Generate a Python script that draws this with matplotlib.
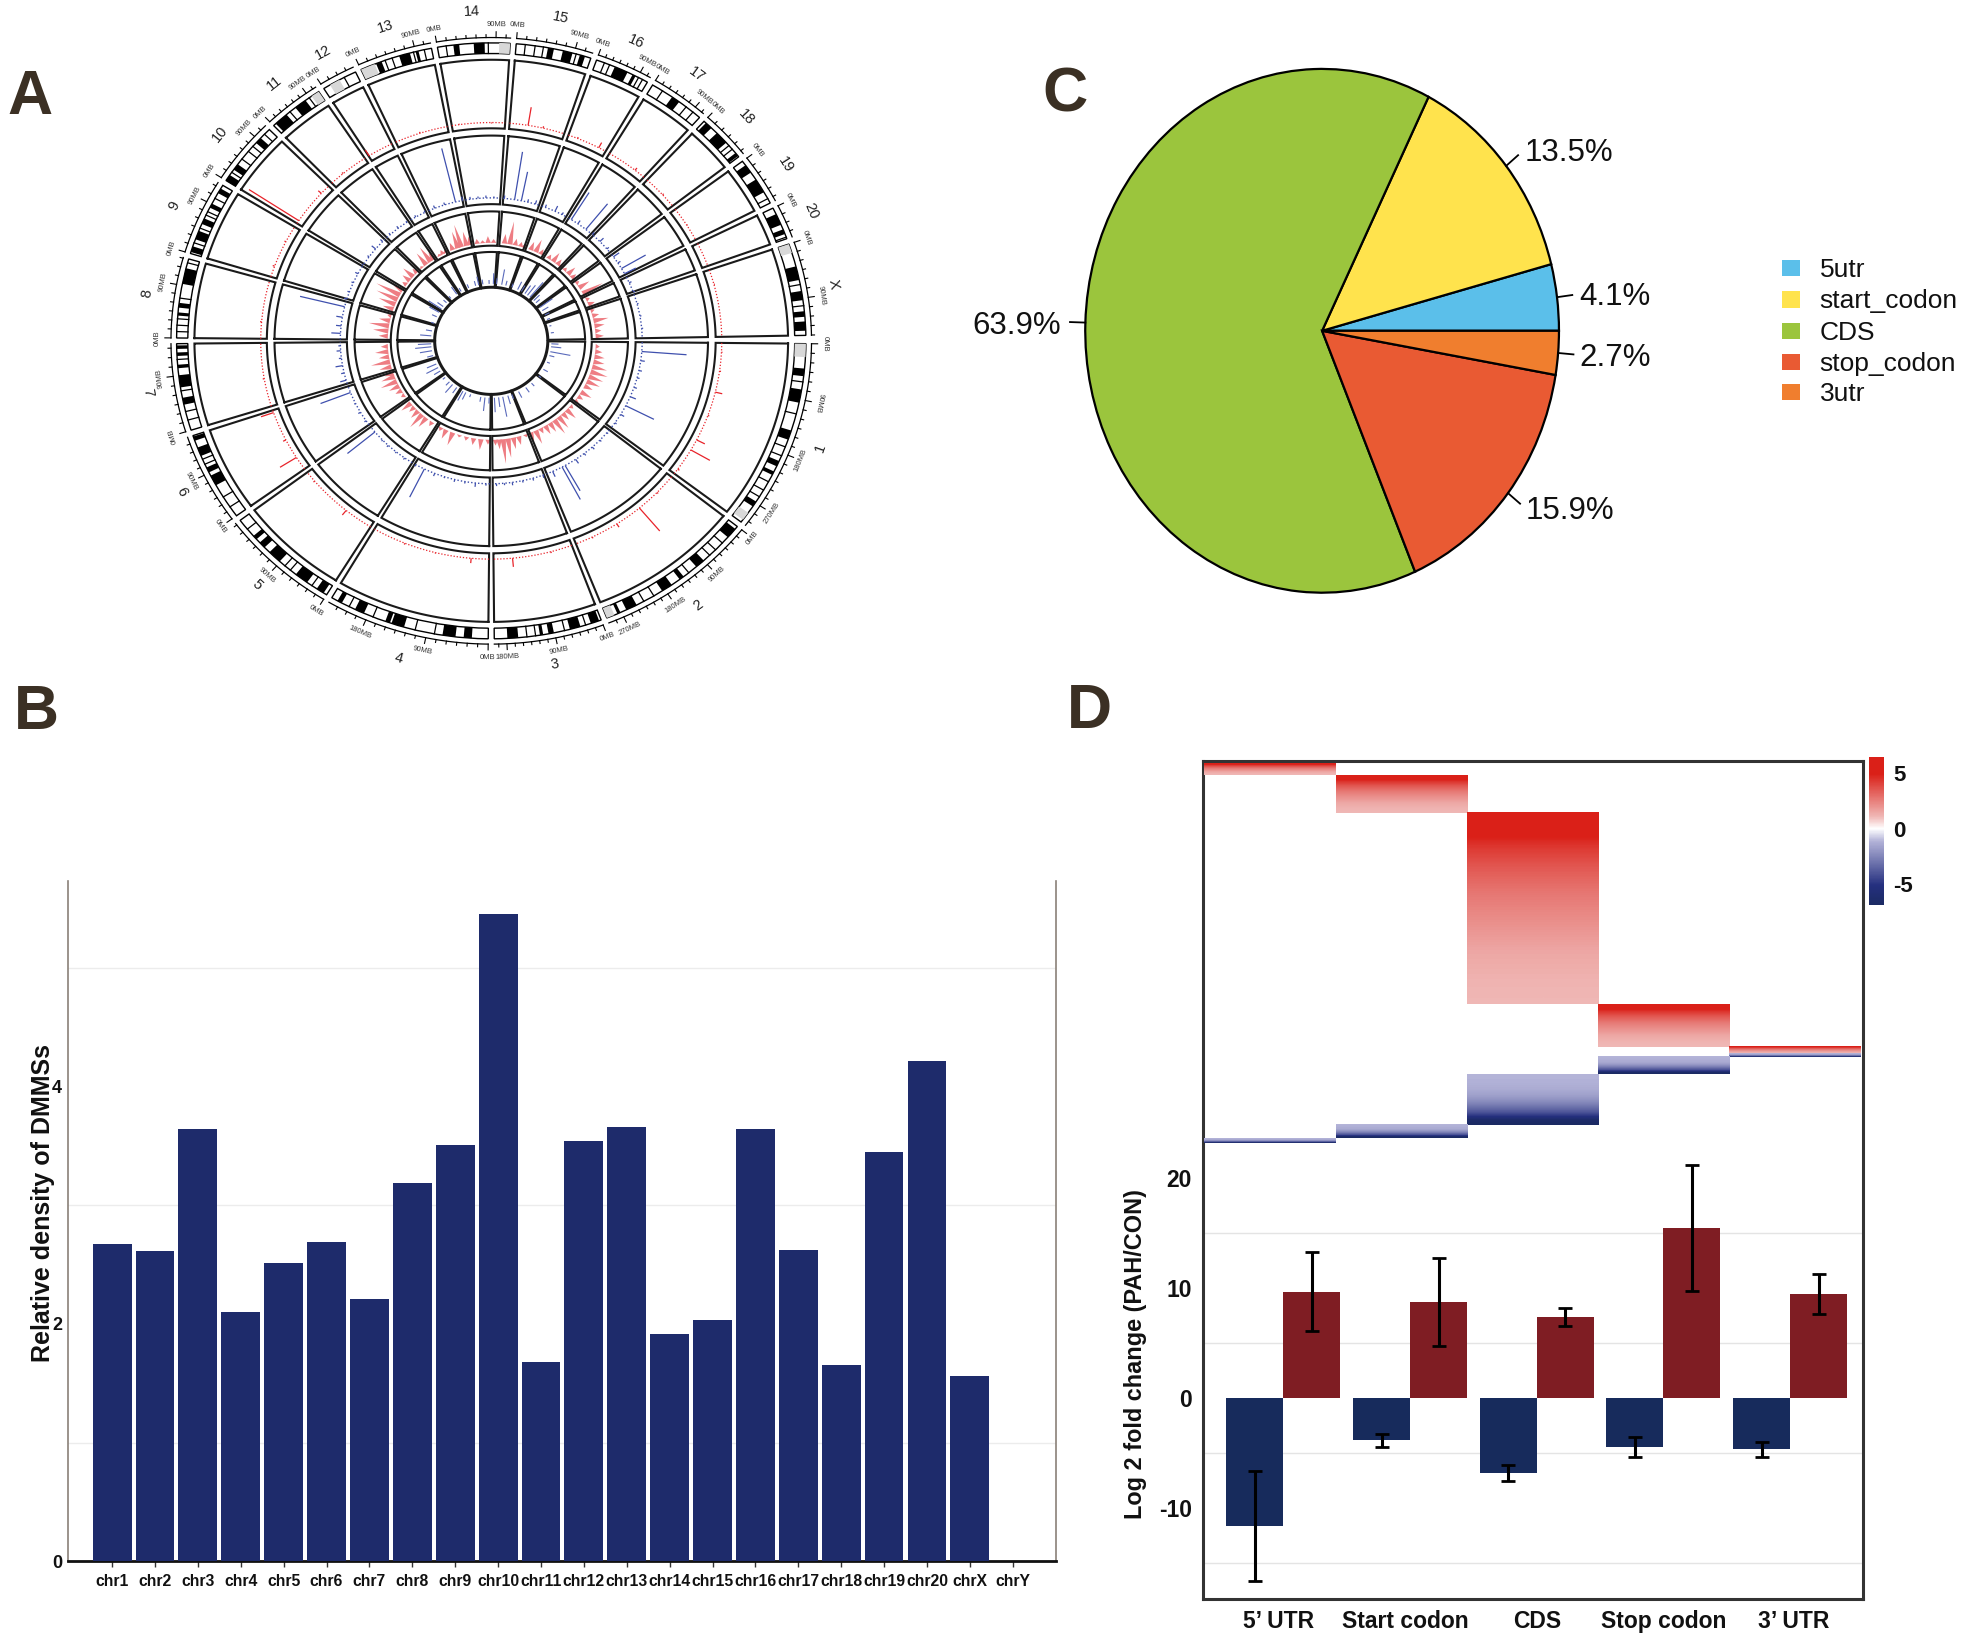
import numpy as np
import matplotlib
matplotlib.use("Agg")
import matplotlib.pyplot as plt
from matplotlib.colors import LinearSegmentedColormap, Normalize
from matplotlib.cm import ScalarMappable

W, H = 1568.0, 1312.0   # layout units
plt.rcParams['font.family'] = ['Liberation Sans', 'DejaVu Sans']
fig = plt.figure(figsize=(19.65, 16.44), dpi=100, facecolor='white')

def box(l, t, r, b, **kw):
    return fig.add_axes([l / W, 1 - b / H, (r - l) / W, (b - t) / H], **kw)

def ftext(x, y, s, **kw):
    kw.setdefault('ha', 'center'); kw.setdefault('va', 'center')
    return fig.text(x / W, 1 - y / H, s, **kw)

# ---------------- Panel A data ----------------
chr_names = ['1','2','3','4','5','6','7','8','9','10','11','12','13','14','15','16','17','18','19','20','X']
chr_edges = [0,38,69,90,121,143.5,162,180,196.5,212,225.7,237.3,245,259.6,274,289,300.3,312,322.4,333,340.5,359.5]
chr_deg_per_mb = [.12,.1,.098,.125,.117,.107,.119,.113,.114,.109,.094,.115,.117,.119,.119,.091,.097,.115,.115,.115,.119]
chr_labels_mb = [[0,90,180,270],[0,90,180,270],[0,90,180],[0,90,180],[0,90],[0,90],[0,90],[0,90],[0,90],[0,90],[0,90],
                 [0],[0,90],[0,90],[0,90],[0,90],[0,90],[0],[0],[0],[0,90]]
ideo_black = [
 [(.13,.17),(.24,.31),(.46,.51),(.63,.66),(.69,.71),(.87,.90)],
 [(.02,.09),(.30,.36),(.46,.49),(.55,.62),(.80,.87),(.91,.93)],
 [(.02,.10),(.20,.30),(.45,.50),(.55,.58),(.78,.88)],
 [(.10,.15),(.20,.28),(.52,.60),(.61,.64),(.78,.84),(.93,.96)],
 [(.03,.10),(.20,.32),(.50,.62),(.68,.74),(.78,.82)],
 [(.40,.52),(.56,.62),(.76,.86),(.94,.99)],
 [(.30,.38),(.50,.64),(.72,.76),(.86,.90),(.94,.98)],
 [(.28,.32),(.38,.44),(.68,.88)],
 [(.02,.10),(.20,.32),(.42,.50),(.66,.72),(.88,.95)],
 [(0,.10),(.20,.30),(.72,.82)],
 [(.05,.30),(.50,.72)],
 [],
 [(.22,.30),(.55,.70),(.78,.82)],
 [(.22,.30),(.50,.65)],
 [(.42,.50),(.62,.75),(.85,.92)],
 [(.35,.60),(.70,.76)],
 [(.40,.55)],
 [(.05,.20),(.35,.62),(.90,.98)],
 [(.10,.28),(.45,.75)],
 [(.20,.55),(.70,.85)],
 [(.25,.40),(.52,.62),(.74,.80),(.85,.95)],
]
ideo_grey = [[(0,.07),(.94,.985)],[(.95,1)],[],[],[],[],[],[],[],[],[(.85,1)],[(.2,.5)],[(0,.2)],[(.85,1)],[],[],[],[],[],[],[(0,.1)]]
ideo_sep = [[.20,.37,.55,.60,.75,.80,.84],[.14,.20,.25,.42,.68,.75],[.15,.35,.62,.70],[.33,.45,.72,.88],[.15,.38,.44,.9],
            [.12,.25,.66,.72],[.12,.22,.46,.82],[.08,.16,.24,.5,.95],[.15,.36,.55,.6,.8],[.15,.4,.55,.65,.9],[.38,.8],
            [.65],[.35,.45,.75,.9],[.12,.7],[.12,.25,.36,.8],[.15,.25,.82,.9],[.2,.7,.85],[.7,.8],[.9],[.95],[.45,.68]]

red_spike_ang = [3,8,13.6,20,27,30,36,44,50,57,64,75,84.7,95,104,112,129,140,147.7,153,160.8,170,185,200,207,213.4,222.5,230,238,252,262,270,279.2,283,292,297.8,308.6,318,328,345]
red_spike_h   = [2,3,14,3,18,43,4,3,62,8,3,3,18,10,2,3,12,3,38,6,26,3,3,4,3,117,8,3,14,3,2,2,38,4,3,12,6,3,2,2]

blue_spike_ang = [4.3,8,12,15,19,23,27,31,35,40,44,48,52,56,60.7,62,66,70,74,78,82,85,88,92,96,100,104,108,112,116.3,120,125,129,133,136,140.4,146,150,154,158.8,164,167,170,173,176,178,
                  183,186,189.5,193.8,197,200,204,208,212,216,220,224,228,232,236,240,244,248,252,256.3,259,262,265,268,271,275,278.9,281.5,284,287,291,295,298,302,305,308.8,312,316,320,324,327,329.6,332,336,340,345,350,355]
blue_spike_h   = [88,8,6,5,6,12,62,8,4,3,4,6,5,10,60,76,12,6,5,4,6,4,5,4,8,4,5,3,6,65,4,4,3,4,3,70,4,5,3,63,12,6,14,5,8,4,
                  18,10,12,90,6,4,4,6,3,4,10,6,4,5,3,4,4,6,5,114,8,5,4,5,3,6,100,61,6,8,6,12,5,66,8,68,6,10,5,14,6,55,25,5,4,3,3,3]

pink_ang = [3,6,9,12,15,18,21,24,27,31,34,37,41,44,47,50,53,56,59,62,65,68,71,75,78,81,83.7,86,88,92,96,100,104,108,112,116,119,125,129,132,135,138,141,
            147,150,153,156,159,161,165,168,171,174,177,183,186,189,192,195,199,202,205,208,211,215,218,221,224,228,231,234,236,240,242,244,
            248,251,253,256,258,262,265,268,271,277,280,283,286,288,292,295,298,303,306,309,311,314,317,320,324,327,331,335,338,342,345,348,351,354,357]
pink_h   = [8,14,20,22,30,35,30,28,18,24,12,10,8,25,18,30,35,22,20,12,30,18,6,18,24,40,51,20,12,10,22,14,8,5,28,20,8,10,24,35,20,14,24,
            8,14,22,34,28,18,24,38,20,26,14,18,30,40,22,8,22,35,45,52,20,10,18,26,12,5,30,36,18,5,10,8,
            16,36,48,30,18,10,6,14,8,20,48,14,10,8,18,28,12,10,22,14,8,8,20,12,8,24,45,8,14,8,14,30,20,12,16]

inner_ang = [3,6,11,15,22,30,38,48,55,63,70,74,79,83,87,92,96,100,110,115,118,125,130,134,140,148,152,156,165,170,174,177,185,190,198,205,210,214,217,222,228,235,240,248,255,258,262,268,272,275,280,284,290,296,300,304,307,310,315,318,324,328,333,338,345,352]
inner_h   = [14,20,40,10,6,10,6,8,12,14,10,18,42,20,30,12,28,10,6,16,22,14,22,10,6,14,26,20,12,24,32,26,22,12,6,10,22,30,14,8,6,18,8,8,10,18,10,8,22,12,32,10,8,18,14,20,26,40,16,10,30,14,10,6,4,6]

# ---------------- Panel B data ----------------
chr_b = ['chr1','chr2','chr3','chr4','chr5','chr6','chr7','chr8','chr9','chr10','chr11','chr12','chr13','chr14','chr15','chr16','chr17','chr18','chr19','chr20','chrX','chrY']
dens  = [2.67,2.61,3.64,2.10,2.51,2.69,2.21,3.19,3.51,5.45,1.68,3.54,3.66,1.91,2.03,3.64,2.62,1.65,3.45,4.21,1.56,0]

# ---------------- Panel C data ----------------
pie_names = ['5utr','start_codon','CDS','stop_codon','3utr']
pie_vals  = [4.1,13.5,63.9,15.9,2.7]
pie_cols  = ['#5BBFEA','#FFE34D','#9BC53D','#E95A33','#F07E2E']

# ---------------- Panel D data ----------------
regions = ["5’ UTR","Start codon","CDS","Stop codon","3’ UTR"]
red_rows  = [9.3,29.8,153,34,5.6]
blue_rows = [3.7,11,40,14,2.4]
red_levels  = [6.5,5.6,5,4.4,4,3.6,3.3,3,2.7,2.5,2.3,2.1,1.9,1.7,1.5,1.4,1.3,1.2,1.15,1.1]
blue_levels = [-1.1,-1.15,-1.2,-1.3,-1.4,-1.6,-1.9,-2.3,-2.8,-3.4,-4,-5,-6.4,-6.8]
down_fc  = [-11.6,-3.8,-6.8,-4.45,-4.65]
up_fc    = [9.7,8.8,7.4,15.5,9.5]
down_err = [5,.6,.75,.9,.65]
up_err   = [3.6,4,.8,5.7,1.8]

# ================ Panel A ================
CX, CY, SX, SY = 392, 272, 0.51/1.2532, 0.483/1.2532
RM = 720
axa = box(CX-RM*SX, CY-RM*SY, CX+RM*SX, CY+RM*SY, projection='polar')
axa.set_aspect('auto')
axa.set_theta_zero_location('E'); axa.set_theta_direction(-1)
axa.set_rlim(0, RM); axa.axis('off')
track_r = [(110,184),(197,268),(283,425),(440,582)]
GAP = 0.55
rad = np.deg2rad

def rot(ang):
    return 90-ang if ang < 180 else -90-ang

for i in range(21):
    a0, a1 = chr_edges[i]+GAP, chr_edges[i+1]-GAP
    th = rad(np.linspace(a0, a1, 60))
    for r0, r1 in track_r:
        tt = np.r_[th, th[::-1], th[0]]
        rr = np.r_[np.full(60, r1), np.full(60, r0), r1]
        axa.plot(tt, rr, color='#1a1a1a', lw=1.5, clip_on=False, solid_joinstyle='miter')
    # baselines
    axa.plot(th, np.full(60, 452), color='#E8232A', lw=0.9, ls=(0,(1,1.5)), clip_on=False)
    axa.plot(th, np.full(60, 296), color='#3A4CA8', lw=1.0, ls=(0,(1,1.5)), clip_on=False)
    # ideogram
    axa.bar(rad((a0+a1)/2), 22, width=rad(a1-a0), bottom=595, color='white', edgecolor='black', lw=1.0, clip_on=False)
    span = a1-a0
    for s, e in ideo_black[i]:
        axa.bar(rad(a0+span*(s+e)/2), 22, width=rad(span*(e-s)), bottom=595, color='black', lw=0, clip_on=False)
    for s, e in ideo_grey[i]:
        axa.bar(rad(a0+span*(s+e)/2), 22, width=rad(span*(e-s)), bottom=595, color='#D8D8D8', lw=0, clip_on=False)
    for s in ideo_sep[i]:
        axa.plot([rad(a0+span*s)]*2, [595,617], color='black', lw=0.9, clip_on=False)
    axa.plot(th, np.full(60, 628), color='black', lw=0.9, clip_on=False)
    # ticks
    dpm = chr_deg_per_mb[i]
    for mb in np.arange(0, span/dpm, 15):
        a = a0 + mb*dpm
        major = mb in chr_labels_mb[i]
        axa.plot([rad(a)]*2, [628, 640 if major else 634], color='black', lw=0.8, clip_on=False)
    for mb in chr_labels_mb[i]:
        a = a0 + mb*dpm
        r = rot(a) if 22 < a < 158 else (-a-90 if a < 22 else 90-a+180)
        axa.text(rad(a), 655, f'{mb}MB', fontsize=5.5, color='#333333', rotation=r, rotation_mode='anchor',
                 ha='center', va='center', clip_on=False)
    mid = (a0+a1)/2
    axa.text(rad(mid), 682, chr_names[i], fontsize=10.5, color='#222222', rotation=rot(mid), rotation_mode='anchor',
             ha='center', va='center', clip_on=False)

axa.vlines(rad(np.array(red_spike_ang)), 452, 452+np.array(red_spike_h), color='#E8232A', lw=0.9, clip_on=False)
axa.vlines(rad(np.array(blue_spike_ang)), 296, 296+np.array(blue_spike_h), color='#3F50AE', lw=0.9, clip_on=False)
for ang, h in zip(pink_ang, pink_h):
    t = rad(np.array([ang-1.5, ang, ang+1.5]))
    axa.fill_between(t, 204, [204, 204+h, 204], color='#EE7D83', lw=0, clip_on=False)
axa.vlines(rad(np.array(inner_ang)), 118, 118+np.array(inner_h), color='#5A6ABB', lw=0.8, clip_on=False)
axa.plot(rad(np.linspace(0,360,361)), np.full(361,112), color='#1a1a1a', lw=1.4, clip_on=False)

# ================ Panel B ================
axb = box(54, 703, 843, 1246)
xs = np.arange(len(chr_b))
axb.bar(xs, dens, width=0.906, color='#1E2B6B', zorder=3)
axb.set_xlim(-1.037, 22.02); axb.set_ylim(0, 5.73)
axb.set_xticks(xs); axb.set_xticklabels(chr_b, fontsize=11.3, fontweight='bold', color='#111111')
axb.set_yticks([0,2,4]); axb.set_yticklabels(['0','2','4'], fontsize=13, fontweight='bold', color='#111111')
axb.tick_params(axis='x', length=4, width=1, pad=5, color='#333333')
axb.tick_params(axis='y', length=0, pad=4)
for v in [1,3,5]:
    axb.axhline(v, color='#ECECEC', lw=1, zorder=1)
axb.spines['top'].set_visible(False)
for s in ['left','right']:
    axb.spines[s].set_color('#8A8078'); axb.spines[s].set_linewidth(1.2)
axb.spines['bottom'].set_color('#111111'); axb.spines['bottom'].set_linewidth(2)
ftext(34, 960, 'Relative density of DMMSs', rotation=90, fontsize=18, fontweight='bold', color='#111111')

# ================ Panel C ================
axc = box(1055-189, 264-209, 1055+189, 264+209)
wedges, _ = axc.pie(pie_vals, colors=pie_cols, startangle=0, counterclock=True, radius=1,
                    wedgeprops=dict(edgecolor='black', linewidth=1.6), normalize=True)
axc.set_xlim(-1, 1); axc.set_ylim(-1, 1); axc.set_aspect('auto')
for w in wedges:
    w.set_clip_on(False)
    m = rad((w.theta1+w.theta2)/2)
    axc.plot([np.cos(m), 1.065*np.cos(m)], [np.sin(m), 1.065*np.sin(m)], color='black', lw=1.3, clip_on=False)
pie_txt_xy = [(1289,237),(1252,122),(811,260),(1253,408),(1289,286)]
for (x, y), v in zip(pie_txt_xy, pie_vals):
    ftext(x, y, f'{v}%', fontsize=22.5, color='#111111')
for y, n, c in zip([214,239,264,289,313], pie_names, pie_cols):
    fig.patches.append(plt.Rectangle((1422/W, 1-(y+6.5)/H), 14/W, 13/H, transform=fig.transFigure, color=c, lw=0))
    ftext(1452, y+1.5, n, ha='left', fontsize=19, color='#111111')

# ================ Panel D ================
axd = box(960, 607, 1487, 1276)
xd = np.arange(5)
axd.bar(xd-0.225, down_fc, width=0.45, color='#172B5C', zorder=3)
axd.bar(xd+0.225, up_fc, width=0.45, color='#7F1D23', zorder=3)
axd.errorbar(xd-0.225, down_fc, yerr=down_err, fmt='none', ecolor='black', elinewidth=2.2, capsize=5, capthick=2, zorder=4)
axd.errorbar(xd+0.225, up_fc, yerr=up_err, fmt='none', ecolor='black', elinewidth=2.2, capsize=5, capthick=2, zorder=4)
axd.set_xlim(-0.634, 4.58); axd.set_ylim(-18.24, 58)
for v in [-15,-5,5,15]:
    axd.axhline(v, color='#E4E4E4', lw=1, zorder=1)
axd.set_yticks([-10,0,10,20]); axd.set_yticklabels(['-10','0','10','20'], fontsize=16.5, fontweight='bold', color='#111111')
axd.set_xticks(xd+np.array([-.04,-.04,.0,.0,.03]))
axd.set_xticklabels(regions, fontsize=16.5, fontweight='bold', color='#111111')
axd.tick_params(length=0, pad=8)
for s in axd.spines.values():
    s.set_color('#333333'); s.set_linewidth(2.2)
ftext(906, 1081, 'Log 2 fold change (PAH/CON)', rotation=90, fontsize=16.9, fontweight='bold', color='#111111')

cmap = LinearSegmentedColormap.from_list('rb', [(0,'#1B2A63'),(0.13,'#25307F'),(0.43,'#B3B3D8'),(0.515,'#FFFFFF'),
                                                (0.595,'#F0B8B6'),(0.885,'#DA2018'),(1,'#DA2018')])
norm = Normalize(-6.9, 6.5)
axh = box(960, 607, 1487, 1276)
axh.patch.set_alpha(0); axh.axis('off')
y = 2.4
rx0 = 1.0
tot_red = np.cumsum(red_rows)
for i, n in enumerate(red_rows):
    t = y + (tot_red[i-1] if i else 0)
    axh.imshow(np.array(red_levels)[:, None], cmap=cmap, norm=norm, aspect='auto', interpolation='bilinear',
               extent=[rx0+i*104.7, rx0+(i+1)*104.7, t+n, t])
blue_top = y + tot_red[-1]
tot_blue = np.cumsum(blue_rows[::-1])
for j, n in enumerate(blue_rows[::-1]):
    i = 4-j
    t = blue_top + (tot_blue[j-1] if j else 0)
    axh.imshow(np.array(blue_levels)[:, None], cmap=cmap, norm=norm, aspect='auto', interpolation='bilinear',
               extent=[rx0+i*104.7, rx0+(i+1)*104.7, t+n, t])
axh.set_xlim(0, 527); axh.set_ylim(669, 0)

axcb = box(1491, 604, 1503, 722)
cb = fig.colorbar(ScalarMappable(norm=norm, cmap=cmap), cax=axcb, ticks=[-5,0,5])
cb.outline.set_visible(False)
cb.ax.set_yticklabels(['-5','0','5'], fontsize=16, fontweight='bold', color='#111111')
cb.ax.tick_params(length=0, pad=7)

# ================ Panel letters ================
for x, y, s in [(24,78,'A'),(29,569,'B'),(850,76,'C'),(869,568,'D')]:
    ftext(x, y, s, fontsize=45, fontweight='bold', color='#3B3024')

fig.savefig('out.png', dpi=100, facecolor='white')
